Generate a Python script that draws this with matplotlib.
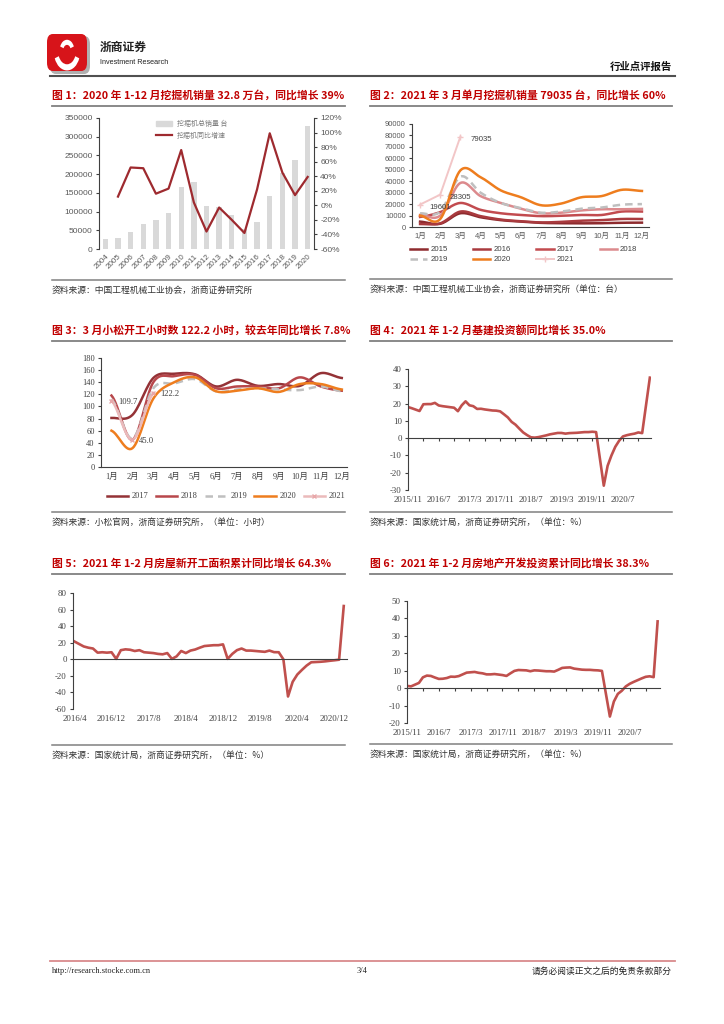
import numpy as np
import pandas as pd
import matplotlib
matplotlib.use('Agg')
import matplotlib.pyplot as plt
from matplotlib.lines import Line2D
from matplotlib.patches import Patch, FancyBboxPatch, Wedge
import matplotlib.ticker as mticker

plt.rcParams['font.family'] = ['Liberation Sans', 'Noto Sans CJK SC', 'DejaVu Sans']
plt.rcParams['axes.unicode_minus'] = False
SERIF = ['Liberation Serif', 'Noto Sans CJK SC', 'DejaVu Sans']
CJK = ['Noto Sans CJK SC', 'DejaVu Sans']
RED = '#C00000'
LINE_RED = '#C0504D'
TICK_C = '#595959'

# ---------------- data ----------------
# fig 1: excavator annual sales and yoy
years1 = [str(y) for y in range(2004, 2021)]
sales1 = [26600, 28300, 44300, 67300, 78000, 96600, 166600, 178000, 115200, 113400,
          91300, 54000, 70900, 140900, 203800, 236600, 327800]
yoy1 = [np.nan, 12, 52, 51, 16, 23, 76, 4, -36, -3, -20, -38, 22, 99, 45, 14, 39]

# fig 2: monthly excavator sales
months = ['1月', '2月', '3月', '4月', '5月', '6月', '7月', '8月', '9月', '10月', '11月', '12月']
sales2015 = [4700, 2800, 12000, 8500, 6000, 4700, 3600, 3300, 3200, 3300, 3700, 3800]
sales2016 = [2600, 3200, 13500, 9500, 6500, 5000, 4000, 4500, 5500, 6000, 7000, 7000]
sales2017 = [8800, 13000, 21000, 15000, 12000, 10500, 9500, 9800, 10500, 10500, 13500, 13500]
sales2018 = [10500, 10000, 38500, 27000, 21000, 16000, 12000, 12500, 14500, 15500, 15500, 15800]
sales2019 = [12000, 13500, 44000, 30000, 21000, 16500, 12500, 13500, 16000, 17000, 19500, 20000]
sales2020 = [10000, 7000, 49500, 43500, 32000, 26000, 19000, 20500, 26000, 27000, 32500, 31500]
sales2021 = [19601, 28305, 79035]

# fig 3: Komatsu working hours
hours2017 = [81, 86, 147, 154, 153, 133, 144, 134, 137, 134, 155, 147]
hours2018 = [118, 45, 140, 150, 152, 130, 133, 133, 130, 148, 133, 126]
hours2019 = [112, 47, 130, 138, 145, 125, 128, 130, 128, 127, 133, 125]
hours2020 = [60, 31, 113, 140, 148, 125, 126, 130, 124, 137, 137, 128]
hours2021 = [109.7, 45.0, 122.2]

# fig 4: infrastructure investment yoy, 2015/11 - 2021/2
infra = [18.0, 17.3, 16.5, 15.7, 19.6, 19.7, 19.7, 20.4, 18.9, 18.5,
         18.2, 17.9, 17.6, 15.6, 19.0, 21.3, 19.0, 18.5, 16.9, 17.0,
         16.6, 16.3, 16.0, 15.9, 15.5, 13.8, 12.0, 9.4, 7.8, 5.5,
         3.3, 1.8, 0.5, 0.3, 0.6, 1.1, 1.6, 2.2, 2.6, 3.0,
         3.0, 2.6, 2.9, 3.0, 3.1, 3.3, 3.5, 3.5, 3.7, 3.5,
         -12.0, -27.5, -16.0, -10.0, -5.0, -1.5, 1.0, 1.7, 2.2, 2.6,
         3.3, 2.9, 19.0, 35.0]

# fig 5: new housing starts area yoy, 2016/4 - 2021/2
starts = [21.5, 18.5, 15.5, 14.0, 13.0, 8.0, 8.5, 8.0, 8.5, 0.5,
          11.0, 12.0, 11.5, 10.0, 11.0, 8.5, 8.0, 7.5, 6.5, 6.0,
          7.5, 0.5, 3.5, 10.0, 7.5, 10.5, 11.8, 14.0, 16.0, 16.5,
          17.0, 17.0, 18.0, 0.5, 6.5, 11.0, 13.0, 10.5, 10.5, 10.0,
          9.5, 9.0, 10.5, 8.6, 8.5, 0.0, -44.9, -27.2, -18.4, -12.8,
          -7.6, -3.6, -3.3, -3.0, -2.5, -1.8, -1.2, -0.5, 64.3]

# fig 6: real estate investment yoy, 2015/11 - 2021/2
estate = [1.3, 1.0, 2.0, 3.0, 6.2, 7.2, 7.0, 6.1, 5.3, 5.4,
          5.8, 6.6, 6.5, 6.9, 7.9, 8.9, 9.1, 9.3, 8.8, 8.5,
          7.9, 7.9, 8.1, 7.8, 7.5, 7.0, 8.5, 9.9, 10.4, 10.3,
          10.2, 9.7, 10.2, 10.1, 9.9, 9.7, 9.7, 9.5, 10.5, 11.6,
          11.8, 11.9, 11.2, 10.9, 10.6, 10.5, 10.5, 10.3, 10.2, 9.9,
          -3.2, -16.3, -7.7, -3.3, -1.5, 1.0, 2.5, 3.6, 4.6, 5.6,
          6.5, 6.8, 6.3, 38.3]

per_a = pd.period_range('2015-11', periods=len(infra), freq='M')
per_b = pd.period_range('2016-04', periods=len(starts), freq='M')
labels_a = [f'{p.year}/{p.month}' for p in per_a]
labels_b = [f'{p.year}/{p.month}' for p in per_b]

# ---------------- helpers ----------------
W, H = 724, 1024
fig = plt.figure(figsize=(W / 100, H / 100), dpi=100)


def box(l, t, r, b):
    return fig.add_axes([l / W, 1 - b / H, (r - l) / W, (b - t) / H])


def ftext(x, y, s, **kw):
    fig.text(x / W, 1 - y / H, s, **kw)


def fline(x0, x1, y, **kw):
    fig.add_artist(Line2D([x0 / W, x1 / W], [1 - y / H, 1 - y / H], **kw))


def title(x0, x1, y, s):
    ftext(x0, y, s, family=CJK, fontsize=7.8, fontweight='bold', color=RED, va='center')
    fline(x0, x1, y + 11, color='#808080', lw=1.3)


def source(x0, x1, y, s):
    fline(x0, x1, y, color='#808080', lw=1.1)
    ftext(x0, y + 10, s, family=CJK, fontsize=6.3, color='#333333', va='center')


def smooth(y, n=16):
    # excel-like smoothed line through the points
    y = np.asarray(y, float)
    p = np.concatenate([[y[0]], y, [y[-1]]])
    xs, ys = [], []
    for i in range(len(y) - 1):
        p0, p1, p2, p3 = p[i], p[i + 1], p[i + 2], p[i + 3]
        c1 = p1 + (p2 - p0) / 6
        c2 = p2 - (p3 - p1) / 6
        t = np.linspace(0, 1, n)
        ys.append((1 - t) ** 3 * p1 + 3 * (1 - t) ** 2 * t * c1 + 3 * (1 - t) * t ** 2 * c2 + t ** 3 * p2)
        xs.append(i + t)
    return np.concatenate(xs), np.concatenate(ys)


def style(ax, family, size, color=TICK_C):
    for s in ['top', 'right']:
        ax.spines[s].set_visible(False)
    for s in ['left', 'bottom']:
        ax.spines[s].set_color('#404040')
        ax.spines[s].set_linewidth(0.8)
    ax.tick_params(labelsize=size, labelcolor=color, color='#404040', width=0.8, length=2.5,
                   labelfontfamily=family, pad=2)


# ---------------- header / footer ----------------
fig.add_artist(FancyBboxPatch((50 / W, 1 - 74 / H), 40 / W, 38 / H,
                              boxstyle='round,pad=0,rounding_size=0.008',
                              transform=fig.transFigure, fc='#b0b0b0', ec='none'))
fig.add_artist(FancyBboxPatch((47 / W, 1 - 71 / H), 40 / W, 37 / H,
                              boxstyle='round,pad=0,rounding_size=0.008',
                              transform=fig.transFigure, fc='#D7141A', ec='none'))
fig.add_artist(Wedge((67 / W, 1 - 52 / H), 0.018, 200, 340, width=0.006,
                     transform=fig.transFigure, fc='white', ec='none'))
fig.add_artist(Wedge((67 / W, 1 - 50 / H), 0.010, 20, 160, width=0.005,
                     transform=fig.transFigure, fc='white', ec='none'))
ftext(100, 47, '浙商证券', family=CJK, fontsize=8.5, fontweight='bold', color='#222222', va='center')
ftext(100, 62, 'Investment Research', family=['Liberation Sans Narrow', 'Liberation Sans'],
      fontsize=5.2, color='#222222', va='center')
ftext(672, 67, '行业点评报告', family=CJK, fontsize=7.5, fontweight='bold', color='#111111',
      va='center', ha='right')
fline(50, 675, 76, color='#505050', lw=1.5)

fline(50, 675, 961, color='#D98A8C', lw=1.3)
ftext(52, 971, 'http://research.stocke.com.cn', family=SERIF, fontsize=6, color='#222222', va='center')
ftext(362, 971, '3/4', family=SERIF, fontsize=6, color='#222222', va='center', ha='center')
ftext(672, 971, '请务必阅读正文之后的免责条款部分', family=CJK, fontsize=6.3, color='#222222',
      va='center', ha='right')

# ---------------- fig 1 ----------------
title(52, 345, 95, '图 1：2020 年 1-12 月挖掘机销量 32.8 万台，同比增长 39%')
ax1 = box(99, 118, 314, 249)
x1 = np.arange(len(years1))
ax1.bar(x1, sales1, width=0.42, color='#D9D9D9', zorder=1)
ax1.set_xlim(-0.5, len(years1) - 0.5)
ax1.set_ylim(0, 350000)
ax1.set_yticks(range(0, 350001, 50000))
ax1.set_xticks(x1)
ax1.set_xticklabels(years1, rotation=45, ha='right', rotation_mode='anchor')
style(ax1, ['Liberation Sans'], 6)
ax1.spines['bottom'].set_visible(False)
ax1.tick_params(axis='x', length=0, pad=3, labelsize=5.8)
ax1b = ax1.twinx()
ax1b.plot(x1, yoy1, color='#9E2A2F', lw=1.6, zorder=3)
ax1b.set_ylim(-60, 120)
ax1b.set_yticks(range(-60, 121, 20))
ax1b.yaxis.set_major_formatter(mticker.FuncFormatter(lambda v, p: f'{v:.0f}%'))
for s in ['top', 'left', 'bottom']:
    ax1b.spines[s].set_visible(False)
ax1b.spines['right'].set_color('#404040')
ax1b.spines['right'].set_linewidth(0.8)
ax1b.tick_params(labelsize=6, labelcolor=TICK_C, color='#404040', width=0.8, length=2.5,
                 labelfontfamily='Liberation Sans', pad=2)
fig.legend([Patch(color='#D9D9D9'), Line2D([], [], color='#9E2A2F', lw=1.6)],
           ['挖掘机总销量 台', '挖掘机同比增速'], loc='upper left',
           bbox_to_anchor=(150 / W, 1 - 114 / H), frameon=False,
           handlelength=2.2, handleheight=0.8, labelspacing=0.5, labelcolor='#7f7f7f',
           prop={'family': CJK, 'size': 5})
source(52, 345, 280, '资料来源：中国工程机械工业协会，浙商证券研究所')

# ---------------- fig 2 ----------------
title(370, 672, 95, '图 2：2021 年 3 月单月挖掘机销量 79035 台，同比增长 60%')
ax2 = box(412, 124, 649, 227)
series2 = [('2015', sales2015, '#8E2B2E', '-'), ('2016', sales2016, '#A93A3E', '-'),
           ('2017', sales2017, '#C24B4F', '-'), ('2018', sales2018, '#DC8A8D', '-'),
           ('2019', sales2019, '#BFBFBF', '--'), ('2020', sales2020, '#EE7D1E', '-')]
h2 = {}
for name, vals, c, ls in series2:
    sx, sy = smooth(vals)
    h2[name], = ax2.plot(sx, sy, color=c, lw=1.8, ls=ls, dashes=(3, 2) if ls == '--' else (None, None))
h2['2021'], = ax2.plot(range(len(sales2021)), sales2021, color='#F2C6C7', lw=1.4,
                       marker='+', ms=4, mew=1)
for i, v in enumerate(sales2021):
    ax2.annotate(str(v), (i, v), xytext=(7, -2), textcoords='offset points', fontsize=5.6,
                 color='#404040', va='center', ha='left')
ax2.set_xlim(-0.4, 11.35)
ax2.set_ylim(0, 90000)
ax2.set_yticks(range(0, 90001, 10000))
ax2.set_xticks(range(12))
ax2.set_xticklabels(months)
style(ax2, ['Liberation Sans', 'Noto Sans CJK SC'], 5.5)
ax2.tick_params(axis='x', length=0, pad=4)
order = ['2015', '2019', '2016', '2020', '2017', '2021', '2018']
fig.legend([h2[k] for k in order], order, loc='upper left', ncol=4,
           bbox_to_anchor=(403 / W, 1 - 239 / H), frameon=False, fontsize=5.6,
           handlelength=2.2, columnspacing=3.3, labelspacing=0.3, handletextpad=0.4,
           labelcolor='#404040')
source(370, 672, 279, '资料来源：中国工程机械工业协会，浙商证券研究所（单位：台）')

# ---------------- fig 3 ----------------
title(52, 345, 330, '图 3：3 月小松开工小时数 122.2 小时，较去年同比增长 7.8%')
ax3 = box(101, 358, 347, 467)
series3 = [('2017', hours2017, '#943236', '-'), ('2018', hours2018, '#B8474B', '-'),
           ('2019', hours2019, '#BFBFBF', '--'), ('2020', hours2020, '#EE7D1E', '-')]
h3 = []
for name, vals, c, ls in series3:
    sx, sy = smooth(vals)
    ln, = ax3.plot(sx, sy, color=c, lw=1.8, ls=ls, dashes=(3, 2) if ls == '--' else (None, None))
    h3.append(ln)
sx, sy = smooth(hours2021)
ax3.plot(sx, sy, color='#EBBABB', lw=1.8)
ax3.plot(range(len(hours2021)), hours2021, ls='none', marker='x', ms=3.5, mew=1, color='#E8A8AA')
h3.append(Line2D([], [], color='#EBBABB', lw=1.8, marker='x', ms=3.5, mew=1, mec='#E8A8AA'))
for i, v in enumerate(hours2021):
    ax3.annotate(f'{v:.1f}', (i, v), xytext=(5, -1), textcoords='offset points', fontsize=6.2,
                 color='#404040', va='center', ha='left', family=SERIF)
ax3.set_xlim(-0.5, 11.25)
ax3.set_ylim(0, 180)
ax3.set_yticks(range(0, 181, 20))
ax3.set_xticks(range(12))
ax3.set_xticklabels(months)
style(ax3, SERIF, 6, color='#404040')
ax3.tick_params(axis='x', length=0, pad=4)
fig.legend(h3, ['2017', '2018', '2019', '2020', '2021'], loc='upper left', ncol=5,
           bbox_to_anchor=(99 / W, 1 - 485 / H), frameon=False, handlelength=2.6,
           columnspacing=0.9, handletextpad=0.4, labelcolor='#404040',
           prop={'family': SERIF, 'size': 6})
source(52, 345, 512, '资料来源：小松官网，浙商证券研究所，（单位：小时）')


# ---------------- fig 4-6 ----------------
def yoy_chart(ax, vals, labels, ymin, ymax, step, xmax, xticks_on_zero=True):
    xs = np.arange(len(vals))
    ax.plot(xs, vals, color=LINE_RED, lw=1.9, solid_joinstyle='round')
    ax.set_xlim(xs[0] - (0.3 if not xticks_on_zero else 0), xmax)
    ax.set_ylim(ymin, ymax)
    ax.set_yticks(range(ymin, ymax + 1, step))
    style(ax, SERIF, 6.3, color='#404040')
    ax.spines['bottom'].set_position(('data', 0))
    ax.set_xticks(xs[::4] if xticks_on_zero else [])
    ax.set_xticklabels([])
    ax.tick_params(axis='x', length=2.5 if xticks_on_zero else 0)
    sec = ax.secondary_xaxis(0.0)
    sec.set_xticks(xs[::8])
    sec.set_xticklabels(labels[::8])
    sec.spines['bottom'].set_visible(False)
    sec.tick_params(length=0, pad=4, labelsize=6.3, labelcolor='#404040', labelfontfamily=SERIF)


title(370, 672, 330, '图 4：2021 年 1-2 月基建投资额同比增长 35.0%')
ax4 = box(408, 369, 651, 490)
yoy_chart(ax4, infra, labels_a, -30, 40, 10, 63.3)
source(370, 672, 512, '资料来源：国家统计局，浙商证券研究所，（单位：%）')

title(52, 345, 563, '图 5：2021 年 1-2 月房屋新开工面积累计同比增长 64.3%')
ax5 = box(73, 593, 347, 709)
yoy_chart(ax5, starts, labels_b, -60, 80, 20, 58.7, xticks_on_zero=False)
source(52, 345, 745, '资料来源：国家统计局，浙商证券研究所，（单位：%）')

title(370, 672, 563, '图 6：2021 年 1-2 月房地产开发投资累计同比增长 38.3%')
ax6 = box(407, 601, 660, 723)
yoy_chart(ax6, estate, labels_a, -20, 50, 10, 63.6)
source(370, 672, 744, '资料来源：国家统计局，浙商证券研究所，（单位：%）')

fig.savefig('out.png', dpi=100, facecolor='white')
